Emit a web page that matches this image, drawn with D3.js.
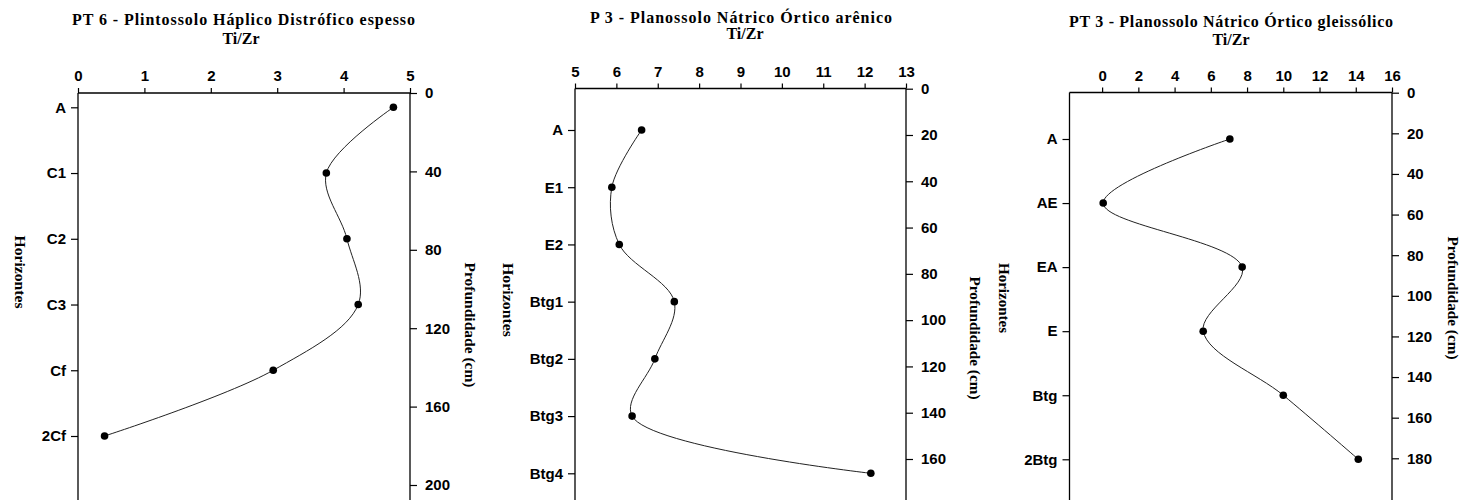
<!DOCTYPE html>
<html><head><meta charset="utf-8">
<script src="https://cdn.jsdelivr.net/npm/d3@7/dist/d3.min.js"></script>
<style>
html,body{margin:0;padding:0;background:#fff;}
svg{display:block;}
.tick text{font-family:"Liberation Sans",Arial,sans-serif;font-weight:bold;font-size:15px;fill:#000;}
.tick line{stroke:#000;stroke-width:1.2;}
</style></head>
<body>
<svg id="chart" width="1464" height="500"></svg>
<script>
// ---- data ----
const p1Title = "PT 6 - Plintossolo Háplico Distrófico espesso";
const p1Horizons = ["A","C1","C2","C3","Cf","2Cf"];
const p1Values = [4.75,3.74,4.05,4.22,2.94,0.40];
const p1XTicks = [0,1,2,3,4,5];
const p1DepthTicks = [0,40,80,120,160,200];

const p2Title = "P 3 - Planossolo Nátrico Órtico arênico";
const p2Horizons = ["A","E1","E2","Btg1","Btg2","Btg3","Btg4"];
const p2Values = [6.61,5.89,6.07,7.40,6.93,6.38,12.15];
const p2XTicks = [5,6,7,8,9,10,11,12,13];
const p2DepthTicks = [0,20,40,60,80,100,120,140,160];

const p3Title = "PT 3 - Planossolo Nátrico Órtico gleissólico";
const p3Horizons = ["A","AE","EA","E","Btg","2Btg"];
const p3Values = [7.05,0.06,7.73,5.58,10.0,14.14];
const p3XTicks = [0,2,4,6,8,10,12,14,16];
const p3DepthTicks = [0,20,40,60,80,100,120,140,160,180];

const xLabel = "Ti/Zr";
const leftLabel = "Horizontes";
const rightLabel = "Profundidade (cm)";

// ---- layout ----
const panels = [
  {title:p1Title, horizons:p1Horizons, values:p1Values, xTicks:p1XTicks, depthTicks:p1DepthTicks,
   left:78, right:410, top:93, xDomain:[0,5], dDomain:[0,200], dRange:[93,485], hRange:[107.3,436],
   titleX:243.5, titleY:25, titleLen:343, subX:241, subY:44,
   hLab:{x:20,y:272,len:73}, pLab:{x:470,y:325,len:125}},
  {title:p2Title, horizons:p2Horizons, values:p2Values, xTicks:p2XTicks, depthTicks:p2DepthTicks,
   left:575, right:906, top:88.5, xDomain:[5,13], dDomain:[0,160], dRange:[88.7,459], hRange:[130,473.3],
   titleX:741, titleY:23, titleLen:302, subX:745, subY:39,
   hLab:{x:508,y:300,len:74}, pLab:{x:975,y:338,len:123}},
  {title:p3Title, horizons:p3Horizons, values:p3Values, xTicks:p3XTicks, depthTicks:p3DepthTicks,
   left:1069.5, right:1392, top:92.5, xDomain:[-1.8,16], dDomain:[0,180], dRange:[92.7,458.3], hRange:[139,459.3],
   titleX:1231, titleY:27, titleLen:324, subX:1231, subY:45,
   hLab:{x:1004,y:298,len:70}, pLab:{x:1453,y:298,len:123}}
];

const svg = d3.select("#chart");
const bottom = 530;
const serif = "'Liberation Serif','Times New Roman',serif";

panels.forEach(p => {
  const g = svg.append("g");
  const x = d3.scaleLinear().domain(p.xDomain).range([p.left,p.right]);
  const d = d3.scaleLinear().domain(p.dDomain).range(p.dRange);
  const h = d3.scalePoint().domain(p.horizons).range(p.hRange);

  // frame lines
  g.append("line").attr("x1",p.left).attr("x2",p.right).attr("y1",p.top).attr("y2",p.top)
    .attr("stroke","#000").attr("stroke-width",1.3);
  g.append("line").attr("x1",p.left).attr("x2",p.left).attr("y1",p.top).attr("y2",bottom)
    .attr("stroke","#000").attr("stroke-width",1.3);
  g.append("line").attr("x1",p.right).attr("x2",p.right).attr("y1",p.top).attr("y2",bottom)
    .attr("stroke","#000").attr("stroke-width",1.3);

  // top axis
  const ax = g.append("g").attr("transform",`translate(0,${p.top})`)
    .call(d3.axisTop(x).tickValues(p.xTicks).tickFormat(d3.format("d")).tickSize(5).tickPadding(7).tickSizeOuter(0));
  ax.select(".domain").remove();

  // left horizon axis
  const al = g.append("g").attr("transform",`translate(${p.left},0)`)
    .call(d3.axisLeft(h).tickSize(7).tickPadding(5).tickSizeOuter(0));
  al.select(".domain").remove();

  // right depth axis
  const ar = g.append("g").attr("transform",`translate(${p.right},0)`)
    .call(d3.axisRight(d).tickValues(p.depthTicks).tickSize(7).tickPadding(8).tickSizeOuter(0));
  ar.select(".domain").remove();

  // curve
  const pts = p.horizons.map((k,i)=>[x(p.values[i]), h(k)]);
  g.append("path").datum(pts)
    .attr("d", d3.line().curve(d3.curveCatmullRom.alpha(0.5)))
    .attr("fill","none").attr("stroke","#222").attr("stroke-width",1);
  g.selectAll("circle.pt").data(pts).enter().append("circle")
    .attr("cx",q=>q[0]).attr("cy",q=>q[1]).attr("r",3.8).attr("fill","#000");

  // titles
  g.append("text").attr("x",p.titleX).attr("y",p.titleY).attr("text-anchor","middle")
    .attr("font-family",serif).attr("font-weight","bold")
    .attr("font-size",16).attr("textLength",p.titleLen).attr("lengthAdjust","spacing").text(p.title);
  g.append("text").attr("x",p.subX).attr("y",p.subY).attr("text-anchor","middle")
    .attr("font-family",serif).attr("font-weight","bold")
    .attr("font-size",16).text(xLabel);

  // rotated axis titles
  [[p.hLab,leftLabel],[p.pLab,rightLabel]].forEach(([L,txt])=>{
    g.append("text").attr("transform",`translate(${L.x},${L.y}) rotate(90)`)
      .attr("text-anchor","middle").attr("dominant-baseline","central")
      .attr("font-family",serif).attr("font-weight","bold")
      .attr("font-size",15).attr("textLength",L.len).attr("lengthAdjust","spacingAndGlyphs").text(txt);
  });
});
</script>
</body></html>
